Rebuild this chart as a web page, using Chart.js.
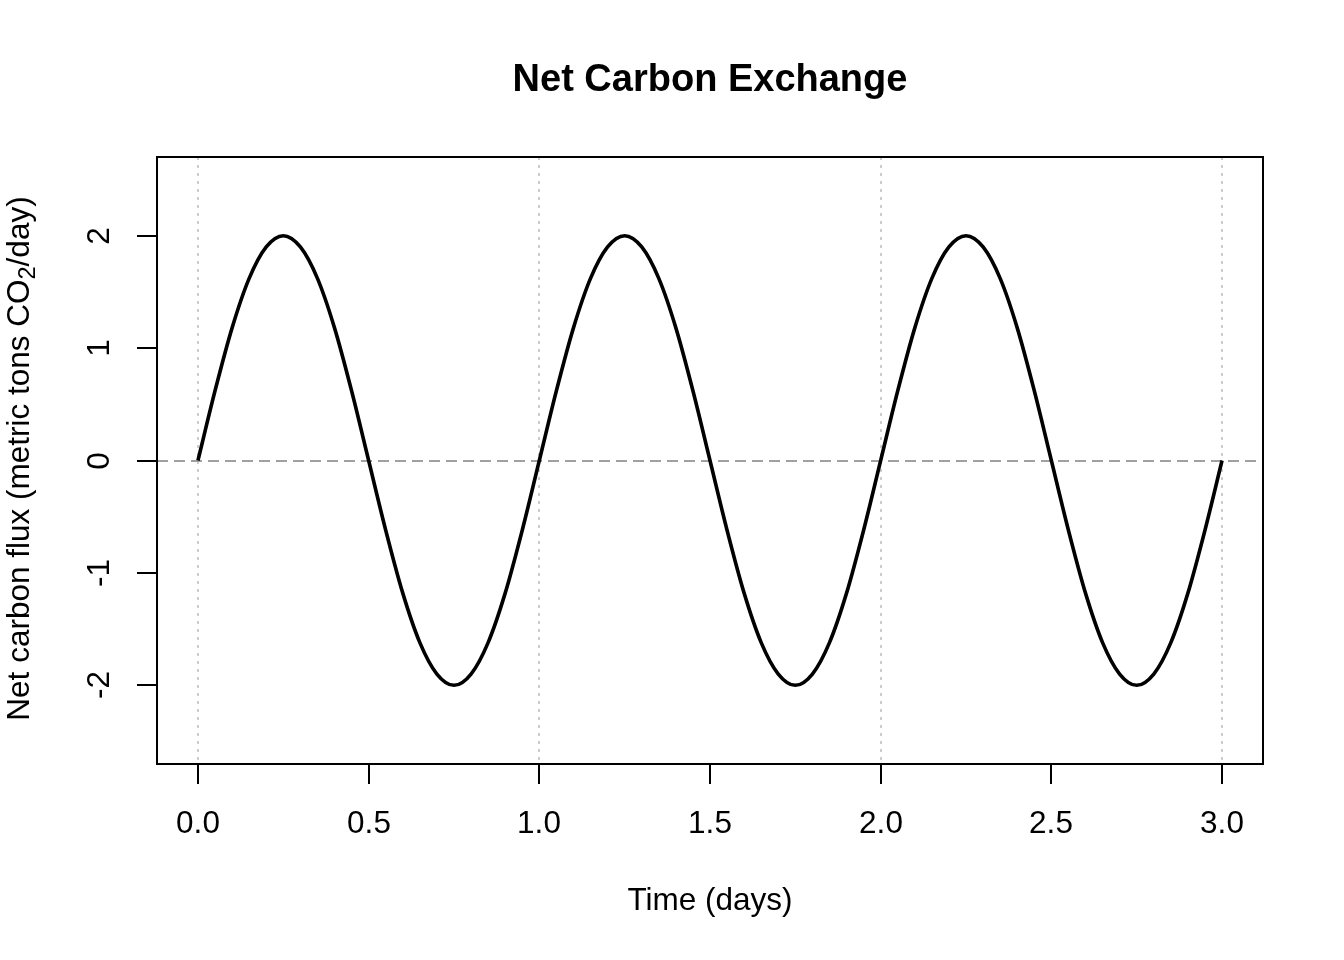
<!DOCTYPE html>
<html>
<head>
<meta charset="utf-8">
<script src="https://cdn.jsdelivr.net/npm/chart.js@4"></script>
<style>
  html, body { margin: 0; padding: 0; background: #fff; }
  #wrap { width: 1344px; height: 960px; position: relative; }
</style>
</head>
<body>
<div id="wrap"><canvas id="chart"></canvas></div>
<script>
// Time axis (days) and net flux
const timeDays = [
  0.00, 0.05, 0.10, 0.15, 0.20, 0.25, 0.30, 0.35, 0.40, 0.45,
  0.50, 0.55, 0.60, 0.65, 0.70, 0.75, 0.80, 0.85, 0.90, 0.95,
  1.00, 1.05, 1.10, 1.15, 1.20, 1.25, 1.30, 1.35, 1.40, 1.45,
  1.50, 1.55, 1.60, 1.65, 1.70, 1.75, 1.80, 1.85, 1.90, 1.95,
  2.00, 2.05, 2.10, 2.15, 2.20, 2.25, 2.30, 2.35, 2.40, 2.45,
  2.50, 2.55, 2.60, 2.65, 2.70, 2.75, 2.80, 2.85, 2.90, 2.95,
  3.00
];
const netFlux = [
  0, 0.62, 1.18, 1.62, 1.90, 2.00, 1.90, 1.62, 1.18, 0.62,
  0, -0.62, -1.18, -1.62, -1.90, -2.00, -1.90, -1.62, -1.18, -0.62,
  0, 0.62, 1.18, 1.62, 1.90, 2.00, 1.90, 1.62, 1.18, 0.62,
  0, -0.62, -1.18, -1.62, -1.90, -2.00, -1.90, -1.62, -1.18, -0.62,
  0, 0.62, 1.18, 1.62, 1.90, 2.00, 1.90, 1.62, 1.18, 0.62,
  0, -0.62, -1.18, -1.62, -1.90, -2.00, -1.90, -1.62, -1.18, -0.62,
  0
];
const xTicks = [0, 0.5, 1, 1.5, 2, 2.5, 3];
const xTickLabels = ['0.0', '0.5', '1.0', '1.5', '2.0', '2.5', '3.0'];
const yTicks = [-2, -1, 0, 1, 2];
const gridDays = [0, 1, 2, 3];

const FONT = '"Liberation Sans", Arial, sans-serif';

// grid lines + zero reference behind the curve
const gridPlugin = {
  id: 'gridLines',
  beforeDatasetsDraw(chart) {
    const ctx = chart.ctx;
    const area = chart.chartArea;
    const xs = chart.scales.x, ys = chart.scales.y;
    ctx.save();
    ctx.strokeStyle = '#cccccc';
    ctx.lineWidth = 2;
    ctx.setLineDash([3, 5]);
    gridDays.forEach(d => {
      const px = Math.round(xs.getPixelForValue(d));
      ctx.beginPath();
      ctx.moveTo(px, area.top);
      ctx.lineTo(px, area.bottom);
      ctx.stroke();
    });
    ctx.strokeStyle = '#a0a0a0';
    ctx.setLineDash([11, 6]);
    const py = Math.round(ys.getPixelForValue(0));
    ctx.beginPath();
    ctx.moveTo(area.left, py);
    ctx.lineTo(area.right, py);
    ctx.stroke();
    ctx.restore();
  }
};

// box, ticks, labels and titles, R style
const framePlugin = {
  id: 'rFrame',
  afterDraw(chart) {
    const ctx = chart.ctx;
    const area = chart.chartArea;
    const xs = chart.scales.x, ys = chart.scales.y;
    ctx.save();
    ctx.strokeStyle = '#000';
    ctx.fillStyle = '#000';
    ctx.lineWidth = 2;
    ctx.setLineDash([]);
    ctx.strokeRect(area.left, area.top, area.right - area.left, area.bottom - area.top);

    // x ticks
    ctx.font = '31.5px ' + FONT;
    ctx.textAlign = 'center';
    ctx.textBaseline = 'middle';
    xTicks.forEach((v, i) => {
      const px = Math.round(xs.getPixelForValue(v));
      ctx.beginPath();
      ctx.moveTo(px, area.bottom);
      ctx.lineTo(px, area.bottom + 20);
      ctx.stroke();
      ctx.fillText(xTickLabels[i], px, area.bottom + 60);
    });

    // y ticks, labels rotated
    yTicks.forEach(v => {
      const py = Math.round(ys.getPixelForValue(v));
      ctx.beginPath();
      ctx.moveTo(area.left, py);
      ctx.lineTo(area.left - 20, py);
      ctx.stroke();
      ctx.save();
      ctx.translate(area.left - 57, py);
      ctx.rotate(-Math.PI / 2);
      ctx.fillText(String(v), 0, 0);
      ctx.restore();
    });

    // axis titles
    ctx.fillText('Time (days)', (area.left + area.right) / 2, 901);

    ctx.save();
    ctx.translate(20, (area.top + area.bottom) / 2 - 2);
    ctx.rotate(-Math.PI / 2);
    const partA = 'Net carbon flux (metric tons CO';
    const partB = '2';
    const partC = '/day)';
    ctx.font = '31.5px ' + FONT;
    const wA = ctx.measureText(partA).width;
    const wC = ctx.measureText(partC).width;
    ctx.font = '23.6px ' + FONT;
    const wB = ctx.measureText(partB).width;
    const total = wA + wB + wC;
    let x0 = -total / 2;
    ctx.textAlign = 'left';
    ctx.font = '31.5px ' + FONT;
    ctx.fillText(partA, x0, 0);
    ctx.font = '23.6px ' + FONT;
    ctx.fillText(partB, x0 + wA, 8);
    ctx.font = '31.5px ' + FONT;
    ctx.fillText(partC, x0 + wA + wB, 0);
    ctx.restore();

    // main title
    ctx.font = 'bold 38px ' + FONT;
    ctx.textAlign = 'center';
    ctx.fillText('Net Carbon Exchange', (area.left + area.right) / 2, 81);
    ctx.restore();
  }
};

const points = timeDays.map((t, i) => ({ x: t, y: netFlux[i] }));

new Chart(document.getElementById('chart'), {
  type: 'line',
  data: {
    datasets: [{
      data: points,
      borderColor: '#000',
      borderWidth: 3.6,
      pointRadius: 0,
      fill: false,
      cubicInterpolationMode: 'monotone'
    }]
  },
  options: {
    responsive: true,
    maintainAspectRatio: false,
    animation: false,
    layout: { padding: { left: 157, right: 81, top: 157, bottom: 196 } },
    plugins: { legend: { display: false }, title: { display: false }, tooltip: { enabled: false } },
    scales: {
      x: { type: 'linear', min: -0.12, max: 3.12, display: false },
      y: { type: 'linear', min: -2.7, max: 2.7, display: false }
    }
  },
  plugins: [gridPlugin, framePlugin]
});
</script>
</body>
</html>
